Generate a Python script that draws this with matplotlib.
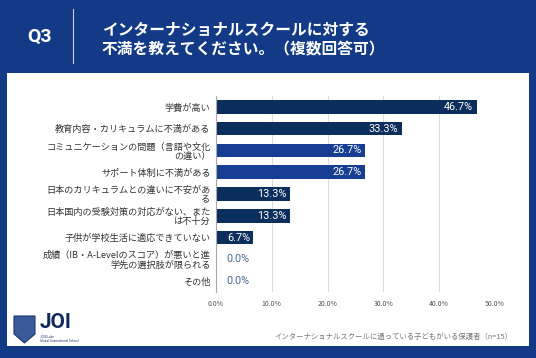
import matplotlib.pyplot as plt
from matplotlib.patches import Rectangle, Polygon
import numpy as np

plt.rcParams['font.family'] = ['Noto Sans CJK JP', 'DejaVu Sans']

categories = [
    "学費が高い",
    "教育内容・カリキュラムに不満がある",
    "コミュニケーションの問題（言語や文化\nの違い）",
    "サポート体制に不満がある",
    "日本のカリキュラムとの違いに不安があ\nる",
    "日本国内の受験対策の対応がない、また\nは不十分",
    "子供が学校生活に適応できていない",
    "成績（IB・A-Levelのスコア）が悪いと進\n学先の選択肢が限られる",
    "その他",
]
values = [46.7, 33.3, 26.7, 26.7, 13.3, 13.3, 6.7, 0.0, 0.0]
highlight = [False, False, True, True, False, False, False, False, False]
xticks = [0, 10, 20, 30, 40, 50]

BG = "#133a86"
NAVY = "#0c2e5c"
BLUE = "#173e93"

fig = plt.figure(figsize=(5.36, 3.58), dpi=100)
fig.patch.set_facecolor(BG)

# white panel
fig.patches.append(Rectangle((7 / 536, 1 - 346 / 358), 522 / 536, 273 / 358,
                             transform=fig.transFigure, facecolor="white",
                             edgecolor="none", zorder=-1))

# header
fig.text(40 / 536, 1 - 37 / 358, "Q3", color="white", fontsize=14,
         fontweight="bold", ha="center", va="center", family="Roboto")
fig.lines.append(plt.Line2D([73 / 536, 73 / 536], [1 - 9 / 358, 1 - 63 / 358],
                            transform=fig.transFigure, color="#c8d0e0", lw=0.8))
fig.text(102 / 536, 1 - 30 / 358, "インターナショナルスクールに対する",
         color="white", fontsize=11.3, fontweight="bold", va="center")
fig.text(102 / 536, 1 - 49 / 358, "不満を教えてください。（複数回答可）",
         color="white", fontsize=11.3, fontweight="bold", va="center")

# chart
ax = fig.add_axes([216 / 536, 1 - 292 / 358, 279 / 536, 196 / 358])
ax.set_zorder(1)
ax.set_facecolor("none")
y = np.arange(len(categories))
colors = [BLUE if h else NAVY for h in highlight]
ax.barh(y, values, height=0.62, color=colors, zorder=3)
ax.set_xlim(0, 50)
ax.set_ylim(len(categories) - 0.5, -0.5)
ax.set_yticks(y)
ax.set_yticklabels(categories, fontsize=6.6, color="#333333", linespacing=1.0)
ax.set_xticks(xticks)
ax.set_xticklabels([f"{t:.1f}%" for t in xticks], fontsize=5, color="#555555")
ax.tick_params(axis="both", length=0)
ax.tick_params(axis="y", pad=4)
ax.tick_params(axis="x", pad=6)
ax.grid(axis="x", color="#dddddd", lw=0.8, zorder=0)
for s in ["top", "right", "bottom"]:
    ax.spines[s].set_visible(False)
ax.spines["left"].set_color("#aaaaaa")
ax.spines["left"].set_linewidth(0.8)
ax.spines["left"].set_zorder(4)

for yi, v in zip(y, values):
    if v > 0:
        ax.text(v - 0.6, yi, f"{v:.1f}%", color="white", fontsize=7.8,
                ha="right", va="center", zorder=5, family="Roboto")
    else:
        ax.text(1.9, yi, f"{v:.1f}%", color="#4a6b96", fontsize=7.8,
                ha="left", va="center", zorder=5, family="Roboto")

# footer
fig.text(512 / 536, 1 - 337 / 358,
         "インターナショナルスクールに通っている子どもがいる保護者（n=15）",
         color="#777777", fontsize=5.3, ha="right", va="center")

# logo
pts = np.array([(14, 316), (35, 316), (35, 334), (24.5, 343), (14, 334)], float)
pts[:, 0] = pts[:, 0] / 536
pts[:, 1] = 1 - pts[:, 1] / 358
fig.patches.append(Polygon(pts, closed=True, facecolor="#3a5a9a",
                           edgecolor="#1a3570", lw=0.8,
                           transform=fig.transFigure, zorder=2))
fig.text(40 / 536, 1 - 323 / 358, "JOI", color="#0f2a5c", fontsize=15,
         fontweight="bold", ha="left", va="center", family="Roboto")
fig.text(40 / 536, 1 - 339 / 358, "JOIS Lake\nGlobal International School",
         color="#0f2a5c", fontsize=2.2, ha="left", va="center", linespacing=1.0)

fig.savefig("out.png", dpi=100, facecolor=fig.get_facecolor())
